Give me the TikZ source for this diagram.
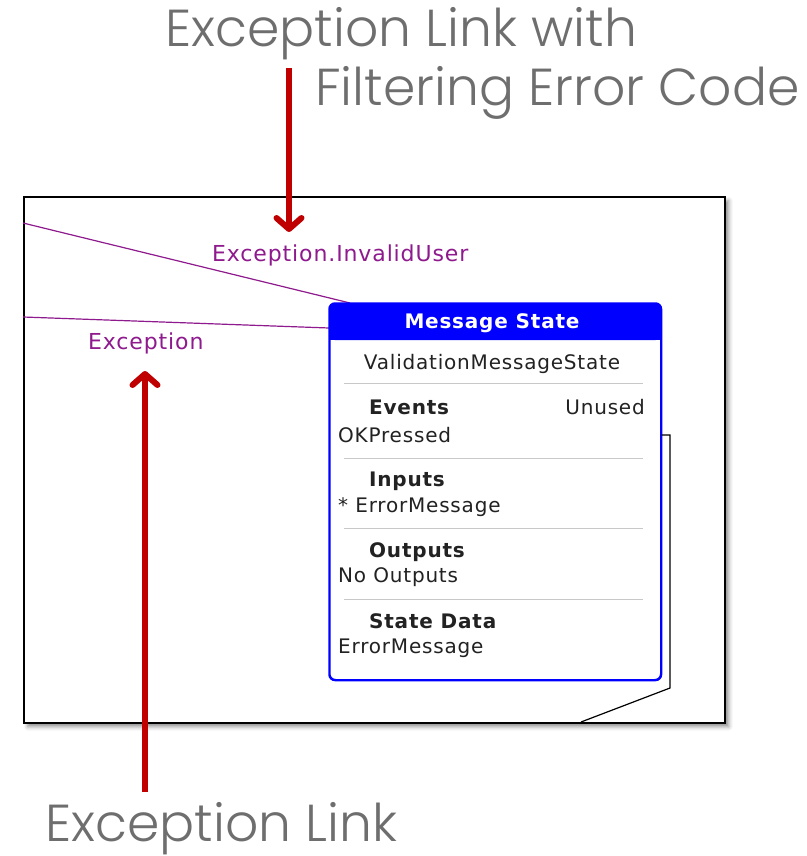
\documentclass[tikz,border=0pt]{standalone}
\usepackage{fontspec}
\setmainfont{DejaVu Sans}[LetterSpace=4]
\newfontfamily\calloutfont{Poppins Light}
\usetikzlibrary{arrows.meta,positioning,shadows.blur}
\definecolor{calloutred}{HTML}{C00000}
\definecolor{calloutgray}{HTML}{6E6E6E}
\definecolor{linkpurple}{HTML}{8E1A8E}
\definecolor{stateblue}{HTML}{0000FF}
\definecolor{rulegray}{HTML}{C8C8C8}
\definecolor{textdark}{HTML}{222222}

\begin{document}
\begin{tikzpicture}[x=1pt,y=-1pt,
    callout/.style={font=\calloutfont\fontsize{52}{58}\selectfont,text=calloutgray,inner sep=0pt},
    pointer/.style={draw=calloutred,line width=6pt,-{Straight Barb[length=11pt,width=25pt,round]}},
    link/.style={draw=linkpurple,line width=1.2pt},
    linklabel/.style={font=\fontsize{22}{26}\selectfont,text=linkpurple,inner sep=0pt,anchor=base west},
    frame/.style={draw,line width=1.5pt,fill=white,minimum width=701pt,minimum height=526pt,anchor=north west,
        blur shadow={shadow xshift=4pt,shadow yshift=-4pt,shadow blur radius=4pt,shadow opacity=45}},
    statebox/.style={draw=stateblue,line width=1.5pt,rounded corners=6pt,fill=white,minimum width=331pt,minimum height=376pt,anchor=north west},
    title/.style={font=\bfseries\fontsize{20}{24}\selectfont,text=white,inner sep=0pt,anchor=base},
    heading/.style={font=\bfseries\fontsize{20}{24}\selectfont,text=textdark,inner sep=0pt,anchor=base west},
    item/.style={font=\fontsize{20}{24}\selectfont,text=textdark,inner sep=0pt,anchor=base west},
    sep/.style={draw=rulegray,line width=1pt}
]
\useasboundingbox (0,0) rectangle (806,856);

% diagram frame
\node[frame] (frame) at (23,196) {};

% incoming exception links
\coordinate (linkA) at (23,223);
\coordinate (linkB) at (23,317);
\node[statebox] (state) at (329,303) {};
\draw[link] (linkA) -- ([xshift=21pt]state.north west);
\draw[link] (linkB) -- ([yshift=-25pt]state.north west);
\node[linklabel] (invalid) at (212,261) {Exception.InvalidUser};
\node[linklabel] (plain) at (88,349) {Exception};

% state header
\fill[stateblue,rounded corners=6pt] (state.north west) rectangle ([yshift=-37pt]state.north east);
\fill[stateblue] ([yshift=-20pt]state.north west) rectangle ([yshift=-37pt]state.north east);
\draw[stateblue,line width=1.5pt,rounded corners=6pt] (state.north west) rectangle (state.south east);
\node[title] (statename) at (492,328) {Message State};

% state body
\node[item,anchor=base] (statetype) at (492,369) {ValidationMessageState};
\foreach \y in {383,458,528,599}
    \draw[sep] (344,\y) -- (643,\y);
\node[heading] (events) at (369,414) {Events};
\node[item,anchor=base east] (unused) at (645,414) {Unused};
\node[item] (okpressed) at (338,442) {OKPressed};
\node[heading] (inputs) at (369,486) {Inputs};
\node[item] (errin) at (338,512) {* ErrorMessage};
\node[heading] (outputs) at (369,557) {Outputs};
\node[item] (noout) at (338,582) {No Outputs};
\node[heading] (statedata) at (369,628) {State Data};
\node[item] (errdata) at (338,653) {ErrorMessage};

% outgoing link
\coordinate (loopA) at (670,435);
\coordinate (loopB) at (670,688);
\coordinate (loopC) at (581,722);
\draw[line width=1.2pt] (state.east |- loopA) -- (loopA) -- (loopB) -- (loopC);

% callouts
\node[callout,anchor=base west] (topcallout) at (165,47) {Exception Link with};
\node[callout,anchor=base east] (topcallout2) at (800,106) {Filtering Error Code};
\node[callout,anchor=base west] (bottomcallout) at (45,841) {Exception Link};
\coordinate (topstem) at (289,68);
\coordinate (toptip) at (289,232);
\coordinate (bottomstem) at (145,792);
\coordinate (bottomtip) at (145,371);
\draw[pointer] (topstem) -- (toptip);
\draw[pointer] (bottomstem) -- (bottomtip);
\end{tikzpicture}
\end{document}
